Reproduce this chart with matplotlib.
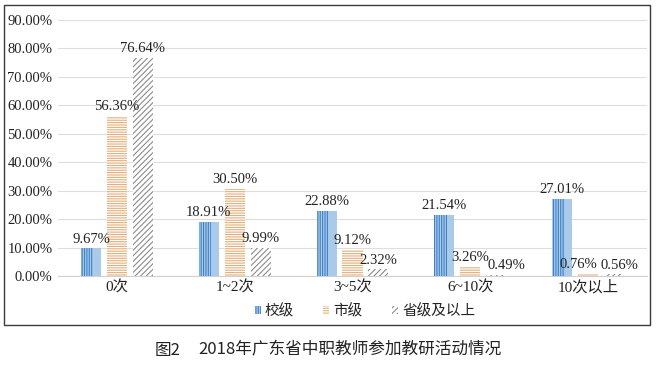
import matplotlib
matplotlib.use("Agg")
import matplotlib.pyplot as plt
from matplotlib.patches import Rectangle, Patch
import numpy as np

categories = ["0次", "1~2次", "3~5次", "6~10次", "10次以上"]
school = [9.67, 18.91, 22.88, 21.54, 27.01]
city = [56.36, 30.50, 9.12, 3.26, 0.76]
province = [76.64, 9.99, 2.32, 0.49, 0.56]
series_names = ["校级", "市级", "省级及以上"]
yticks = [0, 10, 20, 30, 40, 50, 60, 70, 80, 90]
caption_fig = "图2"
caption_text = "2018年广东省中职教师参加教研活动情况"

W, H = 657, 369
fig = plt.figure(figsize=(W / 100, H / 100), dpi=100)
plt.rcParams['hatch.linewidth'] = 0.8
serif = ['Liberation Serif', 'Noto Sans CJK SC']
cjk = ['Noto Sans CJK SC', 'DejaVu Sans']

# frame
fig.patches.append(Rectangle((4 / W, 1 - 325 / H), 646 / W, 320 / H,
                             transform=fig.transFigure, fill=False,
                             edgecolor='#3a3a3a', linewidth=1.0))

ax = fig.add_axes([58 / W, 1 - 276 / H, 589 / W, 256 / H])
x = np.arange(len(categories))
bw = 0.17
step = 0.22

blue_face = '#a9cbe9'
blue_line = '#3f7fc8'
orange = '#e3ae78'
gray = '#8c8c8c'

ax.bar(x - step, school, width=bw, color=blue_face, linewidth=0, zorder=3)
ax.bar(x - step - bw / 2, school, width=bw * 0.62, align='edge', color='none',
       edgecolor=blue_line, hatch='|||||||', linewidth=0, zorder=4)
ax.bar(x, city, width=bw, color='white', edgecolor=orange, hatch='-------',
       linewidth=0, zorder=3)
ax.bar(x + step, province, width=bw, color='white', edgecolor=gray,
       hatch='//////', linewidth=0, zorder=3)

# small horizontal nudges (points) for crowded labels, as in the reference
nudge = {(1, 4): -7, (2, 4): 4, (2, 3): 7}
for si, (offs, vals) in enumerate([(-step, school), (0, city), (step, province)]):
    for xi, v in zip(x, vals):
        dx = nudge.get((si, int(xi)), 0)
        ax.annotate(f"{v:.2f}%", (xi + offs, v), xytext=(dx, 2),
                    textcoords='offset points', ha='center', va='bottom',
                    fontsize=10.5, family=serif, color='#222222', zorder=5)

ax.set_xlim(-0.5, len(categories) - 0.5)
ax.set_ylim(0, 90)
ax.set_yticks(yticks)
ax.set_yticklabels([f"{t:.2f}%" for t in yticks], family=serif, fontsize=10.5,
                   color='#222222')
ax.set_xticks(x)
ax.set_xticklabels(categories, family=serif, fontsize=11, color='#222222')
ax.tick_params(axis='both', length=0)
ax.tick_params(axis='y', pad=4)
ax.tick_params(axis='x', pad=3)
ax.grid(axis='y', color='#dedede', linewidth=0.8, zorder=0)
ax.set_axisbelow(True)
for s in ['top', 'right', 'left']:
    ax.spines[s].set_visible(False)
ax.spines['bottom'].set_color('#d0d0d0')
ax.spines['bottom'].set_linewidth(0.8)

handles = [
    Patch(facecolor=blue_face, edgecolor=blue_line, hatch='|||||||', linewidth=0),
    Patch(facecolor='white', edgecolor=orange, hatch='-------', linewidth=0),
    Patch(facecolor='white', edgecolor=gray, hatch='//////', linewidth=0),
]
fig.legend(handles, series_names, loc='center', bbox_to_anchor=(365 / W, 1 - 311 / H),
           ncol=3, frameon=False, prop={'family': cjk, 'size': 10.5},
           handlelength=0.4, handleheight=0.4, handletextpad=0.3,
           columnspacing=2.0, labelcolor='#222222')

fig.text(155 / W, 1 - 350 / H, caption_fig, ha='left', va='center',
         family=cjk, fontsize=12, color='#222222')
fig.text(198 / W, 1 - 350 / H, caption_text, ha='left', va='center',
         family=cjk, fontsize=12, color='#222222')

fig.savefig('out.png', dpi=100)
